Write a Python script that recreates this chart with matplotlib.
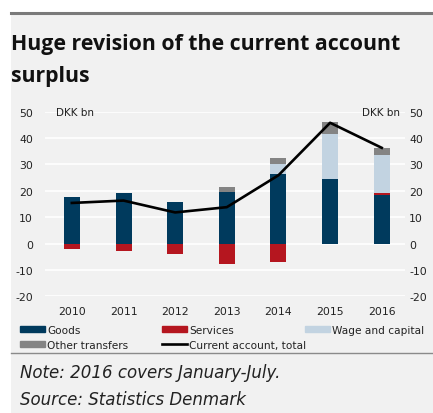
import matplotlib.pyplot as plt
import numpy as np
from matplotlib.lines import Line2D
from matplotlib.patches import Patch, Rectangle

years = ["2010", "2011", "2012", "2013", "2014", "2015", "2016"]
goods = [17.6, 19.3, 15.7, 19.6, 26.4, 24.4, 18.6]
services = [-1.9, -2.9, -3.9, -7.6, -6.9, 0.0, 0.7]
wage_capital = [0.0, 0.0, 0.0, 0.0, 3.6, 17.1, 14.3]
other_transfers = [0.0, 0.0, 0.0, 1.8, 2.6, 4.6, 2.8]
current_account = [15.4, 16.3, 11.8, 13.8, 25.9, 45.8, 36.3]
y_ticks = [50, 40, 30, 20, 10, 0, -10, -20]

NAVY = "#003a5d"
RED = "#b5161f"
LIGHT = "#c2d3e1"
GREY = "#848484"
BG = "#f1f1f1"
TXT = "#222222"

plt.rcParams["axes.unicode_minus"] = False


def main() -> None:
    fig = plt.figure(figsize=(4.33, 4.14), dpi=100)
    fig.patch.set_facecolor("white")
    W, H = 433, 414

    # panel background and rules
    fig.patches.append(Rectangle((11 / W, 0), 1 - 11 / W, 1 - 15 / H, transform=fig.transFigure,
                                 facecolor=BG, edgecolor="none", zorder=-5))
    fig.add_artist(Line2D([11 / W, 1], [1 - 13.5 / H] * 2, transform=fig.transFigure, color="#7a7a7a", lw=2.2))
    fig.add_artist(Line2D([11 / W, 1], [1 - 354 / H] * 2, transform=fig.transFigure, color="#8a8a8a", lw=1.0))

    title_kw = dict(fontsize=15.3, fontweight="bold", family="Open Sans", va="baseline", ha="left",
                    color="#111111")
    fig.text(11 / W, 1 - 50 / H, "Huge revision of the current account", **title_kw)
    fig.text(11 / W, 1 - 82 / H, "surplus", **title_kw)

    ax = fig.add_axes([45 / W, 1 - 297.3 / H, 360 / W, 184.6 / H])
    ax.set_facecolor("none")
    x = np.arange(len(years))
    width = 0.31

    # positives stack upward, negatives downward
    pos_base = np.zeros(len(years))
    neg_base = np.zeros(len(years))
    for vals, color in [(goods, NAVY), (services, RED), (wage_capital, LIGHT), (other_transfers, GREY)]:
        v = np.array(vals)
        p = np.where(v > 0, v, 0)
        n = np.where(v < 0, v, 0)
        ax.bar(x, p, width, bottom=pos_base, color=color, zorder=2)
        ax.bar(x, n, width, bottom=neg_base, color=color, zorder=2)
        pos_base += p
        neg_base += n

    ax.plot(x, current_account, color="black", lw=1.9, zorder=3)

    ax.set_xlim(-0.52, 6.45)
    ax.set_ylim(-20, 50)
    ax.set_yticks(y_ticks)
    ax.set_xticks(x)
    ax.set_xticklabels(years)
    ax.grid(axis="y", color="white", lw=1.2, zorder=1)
    ax.set_axisbelow(True)
    for s in ax.spines.values():
        s.set_visible(False)
    ax.tick_params(length=0, labelsize=7.8, colors=TXT)
    ax.tick_params(axis="y", pad=8.6)
    ax.tick_params(axis="x", pad=7)

    ax2 = ax.twinx()
    ax2.set_ylim(ax.get_ylim())
    ax2.set_yticks(y_ticks)
    ax2.tick_params(length=0, labelsize=7.8, colors=TXT, pad=3)
    for s in ax2.spines.values():
        s.set_visible(False)

    ax.text(0.03, 50, "DKK bn", fontsize=7.5, va="center", ha="left", color=TXT,
            transform=ax.get_yaxis_transform())
    ax.text(0.985, 50, "DKK bn", fontsize=7.5, va="center", ha="right", color=TXT,
            transform=ax.get_yaxis_transform())

    columns = [
        (20, [Patch(color=NAVY, label="Goods"), Patch(color=GREY, label="Other transfers")]),
        (162, [Patch(color=RED, label="Services"),
               Line2D([], [], color="black", lw=1.9, label="Current account, total")]),
        (305, [Patch(color=LIGHT, label="Wage and capital")]),
    ]
    for xpos, handles in columns:
        leg = fig.legend(handles=handles, loc="upper left", bbox_to_anchor=(xpos / W, 1 - 326 / H),
                         frameon=False, fontsize=7.6, handlelength=2.4, handleheight=0.45,
                         handletextpad=0.15, labelspacing=0.45, borderaxespad=0, borderpad=0)
        for t in leg.get_texts():
            t.set_color(TXT)

    fig.text(20 / W, 1 - 378 / H, "Note: 2016 covers January-July.", fontsize=12, style="italic",
             color=TXT, va="baseline")
    fig.text(20 / W, 1 - 405 / H, "Source: Statistics Denmark", fontsize=12, style="italic",
             color=TXT, va="baseline")

    fig.savefig("out.png", dpi=100, facecolor=fig.get_facecolor())


if __name__ == "__main__":
    main()
